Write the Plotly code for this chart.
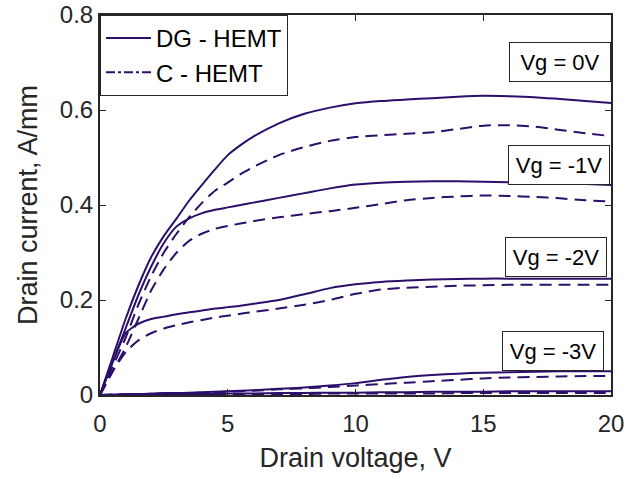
import plotly.graph_objects as go

# Drain voltage samples (V)
vd = [0, 0.5, 1, 1.5, 2, 2.5, 3, 3.5, 4, 4.5, 5, 5.5, 6, 7, 8, 9, 10, 11, 12, 13, 14, 15, 16, 17, 18, 19, 20]

# DG-HEMT (solid)
dg_vg0 = [0, 0.08, 0.16, 0.23, 0.29, 0.335, 0.372, 0.41, 0.443, 0.475, 0.505, 0.526, 0.544, 0.572, 0.592, 0.605, 0.614, 0.619, 0.622, 0.625, 0.628, 0.63, 0.629, 0.627, 0.623, 0.619, 0.615]
dg_vg1 = [0, 0.07, 0.14, 0.21, 0.27, 0.32, 0.355, 0.372, 0.383, 0.39, 0.395, 0.40, 0.405, 0.415, 0.425, 0.435, 0.443, 0.447, 0.449, 0.45, 0.45, 0.449, 0.448, 0.447, 0.446, 0.444, 0.442]
dg_vg2 = [0, 0.07, 0.13, 0.15, 0.16, 0.165, 0.17, 0.174, 0.178, 0.182, 0.185, 0.188, 0.192, 0.2, 0.212, 0.225, 0.233, 0.238, 0.241, 0.243, 0.244, 0.245, 0.245, 0.245, 0.245, 0.245, 0.245]
dg_vg3 = [0, 0.001, 0.002, 0.002, 0.003, 0.004, 0.004, 0.005, 0.006, 0.007, 0.008, 0.009, 0.01, 0.013, 0.016, 0.02, 0.025, 0.032, 0.038, 0.042, 0.045, 0.047, 0.048, 0.049, 0.05, 0.05, 0.05]
dg_vg4 = [0, 0.0, 0.001, 0.001, 0.001, 0.001, 0.002, 0.002, 0.002, 0.002, 0.003, 0.003, 0.003, 0.004, 0.004, 0.005, 0.005, 0.006, 0.006, 0.007, 0.007, 0.007, 0.008, 0.008, 0.008, 0.008, 0.008]

# C-HEMT (dashed)
c_vg0 = [0, 0.06, 0.12, 0.19, 0.25, 0.30, 0.34, 0.375, 0.405, 0.43, 0.447, 0.465, 0.48, 0.505, 0.522, 0.535, 0.543, 0.547, 0.55, 0.553, 0.56, 0.567, 0.568, 0.565, 0.558, 0.551, 0.545]
c_vg1 = [0, 0.05, 0.10, 0.16, 0.22, 0.265, 0.30, 0.325, 0.34, 0.35, 0.356, 0.361, 0.366, 0.374, 0.381, 0.387, 0.394, 0.402, 0.41, 0.415, 0.418, 0.42, 0.419, 0.417, 0.414, 0.41, 0.407]
c_vg2 = [0, 0.05, 0.09, 0.115, 0.13, 0.14, 0.147, 0.153, 0.158, 0.163, 0.167, 0.171, 0.175, 0.182, 0.19, 0.2, 0.213, 0.222, 0.226, 0.228, 0.23, 0.231, 0.232, 0.232, 0.232, 0.232, 0.232]
c_vg3 = [0, 0.001, 0.001, 0.002, 0.002, 0.003, 0.003, 0.004, 0.005, 0.006, 0.007, 0.008, 0.009, 0.012, 0.014, 0.017, 0.02, 0.023, 0.026, 0.029, 0.032, 0.035, 0.037, 0.038, 0.039, 0.04, 0.04]
c_vg4 = [0, 0.0, 0.0, 0.0, 0.001, 0.001, 0.001, 0.001, 0.001, 0.001, 0.002, 0.002, 0.002, 0.002, 0.002, 0.003, 0.003, 0.003, 0.003, 0.003, 0.004, 0.004, 0.004, 0.004, 0.004, 0.004, 0.004]

legend_names = ["DG - HEMT", "C - HEMT"]
vg_labels = ["Vg = 0V", "Vg = -1V", "Vg = -2V", "Vg = -3V"]
vg_label_x = [18.0, 17.95, 17.86, 17.73]
vg_label_y = [0.702, 0.485, 0.291, 0.092]

x_ticks = [0, 5, 10, 15, 20]
y_ticks = [0, 0.2, 0.4, 0.6, 0.8]
y_tick_text = ["0", "0.2", "0.4", "0.6", "0.8"]

color = "#2c0f6a"
axis_color = "#262626"
font = "Liberation Sans, Arial, sans-serif"

fig = go.Figure()
for ys in [dg_vg0, dg_vg1, dg_vg2, dg_vg3, dg_vg4]:
    fig.add_trace(go.Scatter(x=vd, y=ys, mode="lines", line=dict(color=color, width=2, shape="spline", smoothing=0.6), showlegend=False, hoverinfo="skip"))
for ys in [c_vg0, c_vg1, c_vg2, c_vg3, c_vg4]:
    fig.add_trace(go.Scatter(x=vd, y=ys, mode="lines", line=dict(color=color, width=2, dash="12px,7px", shape="spline", smoothing=0.6), showlegend=False, hoverinfo="skip"))

# legend-only entries
fig.add_trace(go.Scatter(x=[None], y=[None], mode="lines", name=legend_names[0], line=dict(color=color, width=2)))
fig.add_trace(go.Scatter(x=[None], y=[None], mode="lines", name=legend_names[1], line=dict(color=color, width=2, dash="dashdot")))

for t, x, y in zip(vg_labels, vg_label_x, vg_label_y):
    fig.add_annotation(x=x, y=y, text=t, showarrow=False, font=dict(family=font, size=22, color="black"),
                       bgcolor="white", bordercolor=axis_color, borderwidth=1, borderpad=0, width=100, height=38)

fig.update_layout(
    width=638, height=479,
    margin=dict(l=100, r=27, t=15, b=84, autoexpand=False),
    paper_bgcolor="white", plot_bgcolor="white",
    font=dict(family=font, color=axis_color),
    legend=dict(x=0, y=1, xanchor="left", yanchor="top", bgcolor="white", bordercolor=axis_color, borderwidth=1,
                font=dict(family=font, size=24, color="black"), tracegroupgap=0, itemwidth=45),
    showlegend=True,
)
fig.update_xaxes(range=[0, 20], tickvals=x_ticks, ticks="inside", ticklen=6, tickcolor=axis_color,
                 showline=True, linecolor=axis_color, linewidth=2, mirror="ticks", showgrid=False, zeroline=False,
                 automargin=False, ticklabeloverflow="allow", ticklabelstandoff=6,
                 tickfont=dict(size=24, family=font, color=axis_color),
                 title=dict(text="Drain voltage, V", font=dict(size=27, family=font, color=axis_color), standoff=12))
fig.update_yaxes(range=[0, 0.8], tickvals=y_ticks, ticktext=y_tick_text, ticks="inside", ticklen=6, tickcolor=axis_color,
                 showline=True, linecolor=axis_color, linewidth=2, mirror="ticks", showgrid=False, zeroline=False,
                 automargin=False, ticklabeloverflow="allow",
                 tickfont=dict(size=24, family=font, color=axis_color),
                 title=dict(text="Drain current, A/mm", font=dict(size=27, family=font, color=axis_color), standoff=14))

fig.write_html("out.html", config={"displayModeBar": False},
               post_script="document.body.style.margin='0';document.body.style.overflow='hidden';")
